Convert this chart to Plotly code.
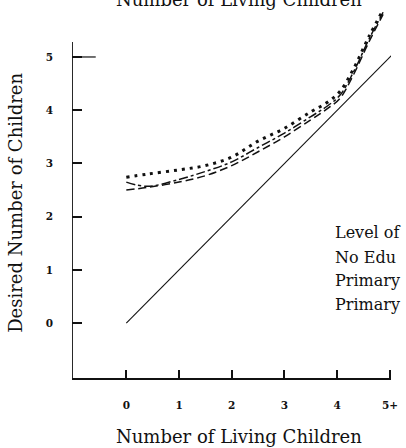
import plotly.graph_objects as go

# Desired number of children by number of living children, per education level
living = [0, 0.4, 1, 1.5, 2, 2.5, 3, 3.5, 3.8, 4.05, 4.3, 4.6, 4.87]
no_education = [2.74, 2.80, 2.88, 2.96, 3.12, 3.42, 3.66, 3.97, 4.14, 4.35, 4.76, 5.38, 5.88]
primary_incomplete = [2.65, 2.57, 2.70, 2.85, 3.03, 3.30, 3.57, 3.88, 4.07, 4.28, 4.70, 5.33, 5.84]
primary_complete = [2.50, 2.55, 2.65, 2.77, 2.96, 3.22, 3.50, 3.82, 4.02, 4.22, 4.65, 5.28, 5.80]

# Reference line: desired = living
ref_x = [0, 5.05]
ref_y = [0, 5.05]

x_tickvals = [0, 1, 2, 3, 4, 5]
x_ticktext = ["0", "1", "2", "3", "4", "5+"]
y_tickvals = [0, 1, 2, 3, 4, 5]
y_ticktext = ["0", "1", "2", "3", "4", "5"]

key_lines = ["Level of", "No Edu", "Primary", "Primary"]
key_y = [1.71, 1.24, 0.81, 0.36]

SERIF = "DejaVu Serif, Liberation Serif, serif"
INK = "#111111"

fig = go.Figure()
fig.add_trace(go.Scatter(x=ref_x, y=ref_y, mode="lines",
                         line=dict(color=INK, width=1.1), name="Desired = Living"))
fig.add_trace(go.Scatter(x=living, y=no_education, mode="lines", name="No Education",
                         line=dict(color=INK, width=3, dash="3px,5px", shape="spline", smoothing=1.0)))
fig.add_trace(go.Scatter(x=living, y=primary_incomplete, mode="lines", name="Primary Incomplete",
                         line=dict(color=INK, width=1.5, dash="dashdot", shape="spline", smoothing=1.0)))
fig.add_trace(go.Scatter(x=living, y=primary_complete, mode="lines", name="Primary Complete",
                         line=dict(color=INK, width=1.5, dash="8px,4px", shape="spline", smoothing=1.0)))

fig.update_layout(
    width=406, height=448,
    margin=dict(l=72, r=10, t=8, b=70),
    paper_bgcolor="white", plot_bgcolor="white",
    showlegend=False,
    font=dict(family=SERIF, color=INK),
    xaxis=dict(range=[-1.03, 5.02], showgrid=False, zeroline=False,
               showline=True, linecolor=INK, linewidth=1.5,
               ticks="inside", ticklen=8, tickwidth=1.5, tickcolor=INK,
               tickvals=x_tickvals, ticktext=x_ticktext,
               tickfont=dict(family=SERIF, size=10.5, weight="bold", color=INK),
               ticklabelstandoff=17),
    yaxis=dict(range=[-1.03, 5.92], showgrid=False, zeroline=False,
               showline=False,
               ticks="inside", ticklen=10, tickwidth=1.5, tickcolor=INK,
               tickvals=y_tickvals, ticktext=y_ticktext,
               tickfont=dict(family=SERIF, size=10.5, weight="bold", color=INK),
               ticklabelstandoff=18),
)

# Vertical axis line stops short of the top of the plotting area
fig.add_shape(type="line", xref="x", yref="y", x0=-1.03, x1=-1.03, y0=-1.03, y1=5.28,
              line=dict(color=INK, width=1.8))
# Longer tick at the top value
fig.add_shape(type="line", xref="x", yref="y", x0=-1.03, x1=-0.58, y0=5, y1=5,
              line=dict(color=INK, width=1.2))

# Axis titles and header
fig.add_annotation(text="Number of Living Children", xref="paper", yref="paper",
                   x=0.525, y=-0.157, xanchor="center", yanchor="middle", showarrow=False,
                   font=dict(family=SERIF, size=18, color=INK))
fig.add_annotation(text="Number of Living Children", xref="paper", yref="paper",
                   x=0.525, y=1.022, xanchor="center", yanchor="middle", showarrow=False,
                   font=dict(family=SERIF, size=18, color=INK))
fig.add_annotation(text="Desired Number of Children", xref="paper", yref="paper",
                   x=-0.176, y=0.473, xanchor="center", yanchor="middle", showarrow=False,
                   textangle=-90, font=dict(family=SERIF, size=18, color=INK))

# Key text
for txt, yy in zip(key_lines, key_y):
    fig.add_annotation(text=txt, xref="x", yref="y", x=3.92, y=yy,
                       xanchor="left", yanchor="middle", showarrow=False,
                       font=dict(family=SERIF, size=16, color=INK))

fig.write_html("out.html")
